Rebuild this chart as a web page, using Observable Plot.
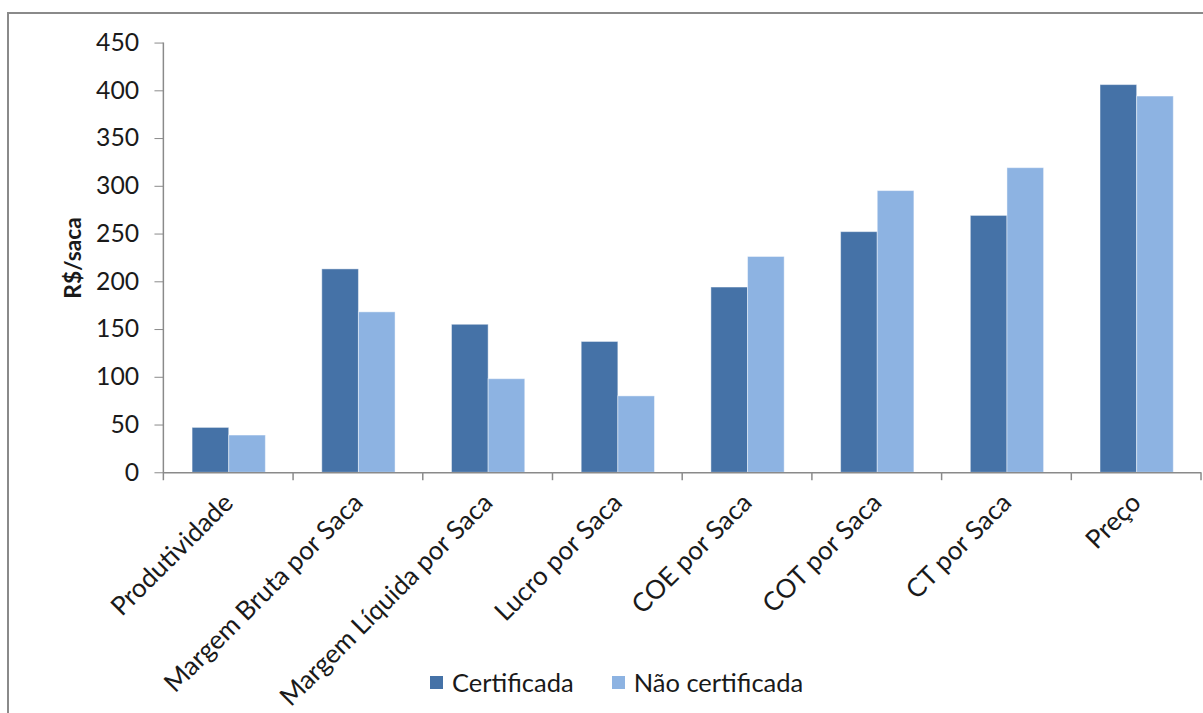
<!DOCTYPE html>
<html>
<head>
<meta charset="utf-8">
<script src="https://cdn.jsdelivr.net/npm/d3@7"></script>
<script src="https://cdn.jsdelivr.net/npm/@observablehq/plot@0.6"></script>
<style>
  html, body { margin: 0; padding: 0; background: #fff; overflow: hidden; }
  #wrap { position: relative; width: 1203px; height: 713px; overflow: hidden; font-family: Lato, "Open Sans", sans-serif; }
  #border { position: absolute; left: 7px; top: 12px; width: 1400px; height: 900px; border: 2px solid #8a8a8a; box-sizing: border-box; }
  #chart { position: absolute; left: 0; top: 0; }
  #legend { position: absolute; top: 667px; left: 430px; display: flex; align-items: center; font-size: 25.5px; color: #1a1a1a; }
  #legend .item { display: flex; align-items: center; margin-right: 38px; }
  #legend .swatch { width: 13px; height: 13px; margin-right: 9px; }
</style>
</head>
<body>
<div id="wrap">
  <div id="border"></div>
  <div id="chart"></div>
  <div id="legend"></div>
</div>
<script>
// Indicadores por saca: propriedades certificadas x não certificadas
const categories = [
  "Produtividade",
  "Margem Bruta por Saca",
  "Margem Líquida por Saca",
  "Lucro por Saca",
  "COE por Saca",
  "COT por Saca",
  "CT por Saca",
  "Preço"
];
const seriesNames = ["Certificada", "Não certificada"];
const certificada = [47, 213, 155, 137, 194, 252, 269, 406];
const naoCertificada = [39, 168, 98, 80, 226, 295, 319, 394];
const seriesColors = ["#4572A7", "#8DB3E2"];
const yTicks = [0, 50, 100, 150, 200, 250, 300, 350, 400, 450];
const yLabel = "R$/saca";

const rows = categories.flatMap((c, i) => [
  {category: c, series: seriesNames[0], value: certificada[i]},
  {category: c, series: seriesNames[1], value: naoCertificada[i]}
]);

const axisGray = "#8a8a8a";
const textColor = "#1a1a1a";

const chart = Plot.plot({
  width: 1215,
  height: 713,
  marginLeft: 162,
  marginRight: 0,
  marginTop: 43,
  marginBottom: 236,
  style: {fontFamily: "Lato, 'Open Sans', sans-serif", fontSize: "25px", color: textColor, background: "transparent", overflow: "visible"},
  fx: {domain: categories, padding: 0, label: null},
  x: {domain: seriesNames, paddingInner: 0, paddingOuter: 0.75, axis: null},
  y: {domain: [0, 450]},
  color: {domain: seriesNames, range: seriesColors},
  marks: [
    Plot.barY(rows, {fx: "category", x: "series", y: "value", fill: "series", stroke: "#ffffff", strokeOpacity: 0.45, strokeWidth: 1}),
    Plot.ruleY([0], {stroke: axisGray, strokeWidth: 1.5}),
    Plot.axisY({ticks: yTicks, tickSize: 9, tickPadding: 16, stroke: axisGray, fill: textColor, label: yLabel, labelAnchor: "center", labelOffset: 100, labelArrow: false}),
    Plot.axisFx({anchor: "bottom", tickRotate: -45, tickSize: 0, tickPadding: 26, fontSize: 26.3, fill: textColor, label: null})
  ]
});
document.getElementById("chart").appendChild(chart);

// Excel-style axis line and category boundary ticks, placed with the plot's own scales
const svg = d3.select(chart);
const fx = chart.scale("fx");
const y = chart.scale("y");
const y0 = y.apply(0);
const yTop = y.apply(450);
const xLeft = fx.apply(categories[0]);
const step = fx.apply(categories[1]) - fx.apply(categories[0]);
const g = svg.append("g").attr("stroke", axisGray).attr("stroke-width", 1.5);
g.append("line").attr("x1", xLeft).attr("x2", xLeft).attr("y1", yTop).attr("y2", y0 + 8);
categories.forEach((c, i) => {
  const xb = fx.apply(c) + step;
  g.append("line").attr("x1", xb).attr("x2", xb).attr("y1", y0).attr("y2", y0 + 8);
});
svg.selectAll('[aria-label="y-axis label"] text, [aria-label="y-axis label"]').style("font-weight", "bold").style("font-size", "23px");

// Legend below the chart
const legend = d3.select("#legend");
seriesNames.forEach((name, i) => {
  const item = legend.append("div").attr("class", "item");
  item.append("div").attr("class", "swatch").style("background", seriesColors[i]);
  item.append("span").text(name);
});
</script>
</body>
</html>
